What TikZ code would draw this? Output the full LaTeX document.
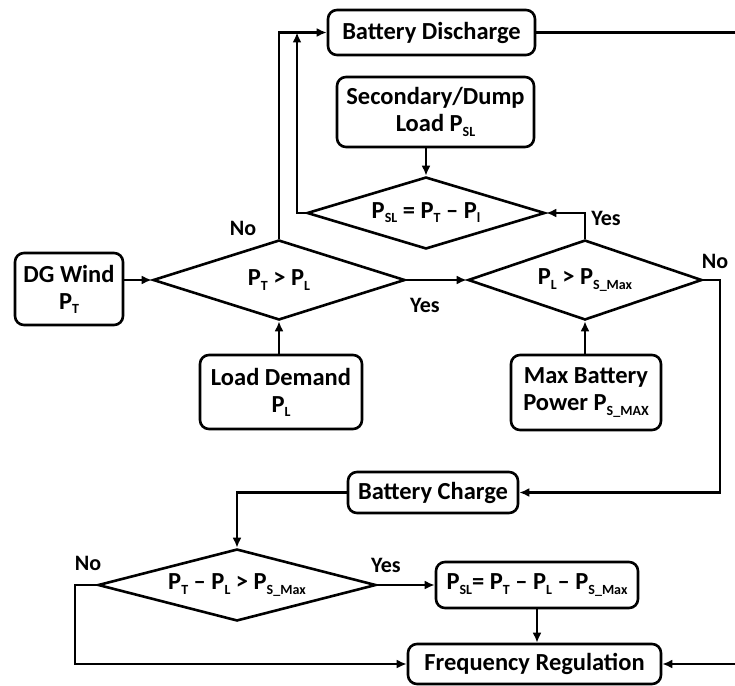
\documentclass[tikz,border=0pt]{standalone}
\usepackage{fontspec}
\setmainfont{Carlito}
\usetikzlibrary{shapes.geometric,arrows.meta}
\newcommand\lsub[1]{\raisebox{-0.35ex}{\fontsize{14}{14}\selectfont #1}}
\begin{document}
\begin{tikzpicture}[x=1pt,y=-1pt,
  box/.style={draw, rounded corners=9pt, line width=2.6pt, align=center, inner sep=0pt,
    font=\fontsize{24.5}{27}\selectfont\bfseries},
  dec/.style={draw, diamond, aspect=3.5, line width=2.6pt, inner sep=0pt,
    font=\fontsize{24.5}{27}\selectfont\bfseries},
  arr/.style={line width=2.6pt, -{Latex[length=10pt,width=9pt]}},
  lbl/.style={font=\fontsize{22}{24}\selectfont\bfseries}]
\useasboundingbox (0,0) rectangle (735,685);
\clip (0,0) rectangle (735,685);
% boxes
\node[box, minimum width=207pt, minimum height=45pt] (bd) at (431.5,32.5) {Battery Discharge};
\node[box, minimum width=197pt, minimum height=70pt] (sd) at (435.5,112) {Secondary/Dump\\Load P\lsub{SL}};
\node[box, minimum width=108pt, minimum height=72pt] (dg) at (69,289) {DG Wind\\P\lsub{T}};
\node[box, minimum width=162pt, minimum height=74pt] (ld) at (281,392) {Load Demand\\P\lsub{L}};
\node[box, minimum width=150pt, minimum height=75pt] (mb) at (586,392.5) {Max Battery\\Power P\lsub{S\_MAX}};
\node[box, minimum width=170pt, minimum height=41pt] (bc) at (433,492.5) {Battery Charge};
\node[box, minimum width=202pt, minimum height=46pt] (ps) at (537,585) {P\lsub{SL}= P\lsub{T} – P\lsub{L} – P\lsub{S\_Max}};
\node[box, minimum width=253pt, minimum height=40pt] (fr) at (534.5,664) {Frequency Regulation};
% decisions
\node[dec, minimum width=238pt, minimum height=72pt] (d1) at (426,213) {P\lsub{SL} = P\lsub{T} – P\lsub{l}};
\node[dec, minimum width=252pt, minimum height=80pt] (d2) at (279,280) {P\lsub{T} > P\lsub{L}};
\node[dec, minimum width=234pt, minimum height=80pt] (d3) at (585,280) {P\lsub{L} > P\lsub{S\_Max}};
\node[dec, minimum width=278pt, minimum height=72pt] (d4) at (237,585) {P\lsub{T} – P\lsub{L} > P\lsub{S\_Max}};
% helper coordinates
\coordinate (j1) at (297,32.5);
\coordinate (c3) at (720,280);
\coordinate (c4) at (75,585);
\coordinate (cr) at (740,32.5);
% connectors
\draw[arr] (d2.north) |- (bd.west);
\draw[arr] (d1.west) -| (j1);
\draw[arr] (d1.north |- sd.south) -- (d1.north);
\draw[arr] (dg.east |- d2.west) -- (d2.west);
\draw[arr] (d2.south |- ld.north) -- (d2.south);
\draw[arr] (d2.east) -- (d3.west);
\draw[arr] (d3.north) |- (d1.east);
\draw[arr] (d3.south |- mb.north) -- (d3.south);
\draw[arr] (d3.east) -- (c3) |- (bc.east);
\draw[arr] (bc.west) -| (d4.north);
\draw[arr] (d4.east) -- (ps.west);
\draw[arr] (ps.south) -- (ps.south |- fr.north);
\draw[arr] (d4.west) -- (c4) |- (fr.west);
\draw[arr] (bd.east) -- (cr) |- (fr.east);
% labels
\node[lbl] (n1) at (243,228) {No};
\node[lbl] (y1) at (606,218) {Yes};
\node[lbl] (y2) at (425,305) {Yes};
\node[lbl] (n2) at (715,261) {No};
\node[lbl] (n3) at (88,563) {No};
\node[lbl] (y3) at (386,565) {Yes};
\end{tikzpicture}
\end{document}
